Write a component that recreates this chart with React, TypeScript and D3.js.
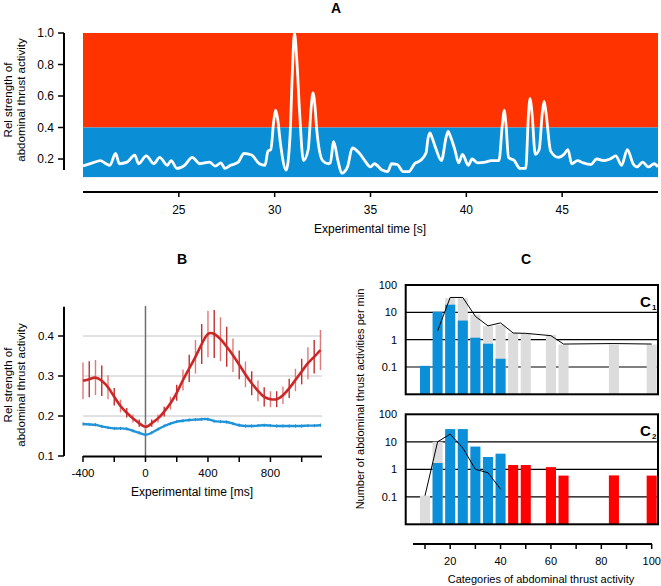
import React from 'react';
import * as d3 from 'd3';

// ---------- Panel A data ----------
const aTime = [20.0,20.5,20.9,21.2,21.4,21.7,21.9,22.3,22.7,22.9,23.3,23.7,24.0,24.4,24.6,24.9,25.3,25.7,26.1,26.6,26.9,27.2,27.4,27.7,28.1,28.4,28.8,29.2,29.5,29.65,29.8,29.95,30.05,30.15,30.3,30.6,30.8,30.92,31.03,31.15,31.3,31.5,31.75,31.9,32.0,32.1,32.2,32.5,32.8,32.9,33.08,33.3,33.5,33.8,34.05,34.4,34.7,35.0,35.2,35.6,35.9,36.1,36.4,36.7,37.0,37.3,37.6,37.9,38.0,38.1,38.2,38.4,38.7,38.95,39.05,39.15,39.4,39.6,39.8,40.1,40.3,40.6,41.0,41.3,41.7,41.88,41.97,42.07,42.2,42.5,42.8,43.1,43.25,43.33,43.42,43.6,43.8,43.97,44.06,44.15,44.4,44.8,45.1,45.3,45.5,45.8,46.1,46.5,46.8,47.2,47.5,47.8,48.1,48.4,48.7,48.9,49.2,49.5,49.8,50.0];
const aValue = [0.156,0.175,0.19,0.17,0.16,0.235,0.17,0.18,0.225,0.17,0.22,0.17,0.21,0.16,0.19,0.14,0.16,0.21,0.17,0.18,0.155,0.175,0.14,0.16,0.18,0.235,0.225,0.17,0.16,0.25,0.26,0.44,0.51,0.46,0.3,0.13,0.34,0.74,1.0,0.84,0.5,0.19,0.26,0.52,0.62,0.54,0.38,0.19,0.17,0.175,0.31,0.19,0.11,0.15,0.27,0.24,0.19,0.15,0.17,0.13,0.12,0.17,0.165,0.12,0.12,0.17,0.19,0.24,0.33,0.365,0.34,0.27,0.19,0.34,0.375,0.35,0.26,0.175,0.23,0.16,0.2,0.175,0.18,0.19,0.19,0.42,0.51,0.42,0.21,0.19,0.14,0.14,0.5,0.585,0.5,0.23,0.26,0.5,0.565,0.5,0.25,0.21,0.23,0.26,0.17,0.19,0.175,0.165,0.2,0.19,0.2,0.22,0.16,0.26,0.17,0.15,0.18,0.15,0.17,0.15];
const aYTicks = [0.2, 0.4, 0.6, 0.8, 1.0];
const aXTicks = [25, 30, 35, 40, 45];
const aBandFrom = [0.4, 0.085];
const aBandTo = [1.0, 0.4];
const aBandColor = ['#ff3300', '#0a8fd6'];

// ---------- Panel B data ----------
const bTime = [-400,-360,-320,-280,-240,-200,-160,-120,-80,-40,0,40,80,120,160,200,240,280,320,360,400,440,480,520,560,600,640,680,720,760,800,840,880,920,960,1000,1040,1080,1120];
const bRedMean = [0.288,0.292,0.296,0.288,0.272,0.248,0.225,0.208,0.194,0.182,0.173,0.182,0.194,0.211,0.232,0.258,0.290,0.319,0.348,0.380,0.405,0.405,0.392,0.373,0.352,0.328,0.304,0.282,0.263,0.248,0.242,0.242,0.252,0.269,0.290,0.311,0.332,0.348,0.365];
const bRedErr = [0.046,0.045,0.044,0.038,0.03,0.022,0.016,0.012,0.01,0.009,0.008,0.009,0.01,0.012,0.016,0.02,0.026,0.034,0.042,0.05,0.058,0.06,0.055,0.05,0.042,0.036,0.032,0.03,0.026,0.024,0.02,0.02,0.022,0.024,0.028,0.032,0.04,0.042,0.05];
const bBlueMean = [0.180,0.179,0.178,0.174,0.171,0.169,0.169,0.168,0.163,0.158,0.153,0.158,0.167,0.175,0.181,0.186,0.188,0.190,0.191,0.192,0.192,0.187,0.186,0.185,0.181,0.177,0.175,0.175,0.176,0.177,0.176,0.175,0.175,0.175,0.175,0.175,0.176,0.176,0.177];
const bBlueErr = [0.004,0.004,0.004,0.004,0.004,0.004,0.004,0.004,0.004,0.004,0.004,0.004,0.004,0.004,0.004,0.004,0.004,0.004,0.004,0.004,0.004,0.004,0.004,0.004,0.004,0.004,0.004,0.004,0.004,0.004,0.004,0.004,0.004,0.004,0.004,0.004,0.004,0.004,0.004];
const bYTicks = [0.1, 0.2, 0.3, 0.4];
const bGrid = [0.2, 0.3, 0.4];
const bXTicks = [-400, -200, 0, 200, 400, 600, 800, 1000];
const bXLabels = [-400, 0, 400, 800];

// ---------- Panel C data ----------
const cCats = [10,15,20,25,30,35,40,45,50,60,65,85,100];
const c1Gray = [null,null,33,33,8.2,3.1,3.5,1.75,1.75,1.5,0.66,0.66,0.66];
const c1Blue = [0.11,10.5,19,5,1.18,0.71,0.2,null,null,null,null,null,null];
const c1Line = [null,2.1,35,35,7.1,3.2,4.1,1.75,1.7,1.4,0.69,0.72,0.69];
const c2Gray = [0.11,10,null,null,null,null,null,null,null,null,null,null,null];
const c2Blue = [null,1.7,29,29,6.7,2.8,3.7,null,null,null,null,null,null];
const c2Red = [null,null,null,null,null,null,null,1.43,1.43,1.2,0.59,0.6,0.59];
const c2Line = [0.11,10,19,6,1.0,0.75,0.19,null,null,null,null,null,null];
const cYTicks = [100, 10, 1, 0.1];
const cGrid = [10, 1, 0.1];
const cXTicks = [10,20,30,40,50,60,70,80,90,100];
const cXLabels = [20,40,60,80,100];

const FONT = '"Liberation Sans", Arial, Helvetica, sans-serif';

export default function App() {
  // Panel A
  const xA = d3.scaleLinear().domain([20, 50]).range([83, 658]);
  const yA = d3.scaleLinear().domain([0.2, 1.0]).range([159, 33]);
  const aPts: [number, number][] = aTime.map((t, i) => [t, aValue[i]]);
  const aLine = d3.line<[number, number]>().x(d => xA(d[0])).y(d => yA(d[1])).curve(d3.curveMonotoneX)(aPts) || '';

  // Panel B
  const xB = d3.scaleLinear().domain([-400, 1130]).range([83, 322]);
  const yB = d3.scaleLinear().domain([0.1, 0.4]).range([456, 336]);
  const lineB = (vals: number[]) => d3.line<number>().x((_, i) => xB(bTime[i])).y(d => yB(d)).curve(d3.curveNatural)(vals) || '';

  // Panel C
  const xC = d3.scaleLinear().domain([10, 100]).range([425, 651.7]);
  const y1 = d3.scaleLog().domain([0.01, 100]).range([394.3, 285]);
  const y2 = d3.scaleLog().domain([0.01, 100]).range([524.3, 414.3]);
  const bw = xC(12) - xC(8);
  const boxL = 405.7, boxR = 658;

  const bars = (vals: (number | null)[], ys: d3.ScaleLogarithmic<number, number>, color: string, key: string) =>
    vals.map((v, i) => v == null ? null : (
      <rect key={key + i} x={xC(cCats[i]) - bw / 2} y={ys(v)} width={bw} height={ys(0.01) - ys(v)} fill={color} />
    ));
  const cLine = (vals: (number | null)[], ys: d3.ScaleLogarithmic<number, number>) => {
    const pts = cCats.map((c, i) => [c, vals[i]] as [number, number | null]).filter(p => p[1] != null) as [number, number][];
    return d3.line<[number, number]>().x(d => xC(d[0])).y(d => ys(d[1]))(pts) || '';
  };

  const cPanel = (ys: d3.ScaleLogarithmic<number, number>, content: React.ReactNode, sub: string) => {
    const top = ys(100), bot = ys(0.01);
    return (
      <g>
        {cGrid.map(g => <line key={'g' + g} x1={boxL} x2={boxR} y1={ys(g)} y2={ys(g)} stroke="#000" strokeWidth={1.2} />)}
        {content}
        <rect x={boxL} y={top} width={boxR - boxL} height={bot - top} fill="none" stroke="#000" strokeWidth={2} />
        {cYTicks.map(t => (
          <text key={'t' + t} x={397} y={ys(t)} textAnchor="end" dominantBaseline="central" fontSize={11}>{String(t)}</text>
        ))}
        <text x={640} y={top + 22} fontSize={15} fontWeight="bold">C</text>
        <text x={652} y={top + 25} fontSize={8} fontWeight="bold">{sub}</text>
      </g>
    );
  };

  return (
    <svg width={661} height={586} style={{ position: 'absolute', left: 0, top: 0 }} fontFamily={FONT}>
      <rect x={0} y={0} width={661} height={586} fill="#fff" />
      {/* ---------- Panel A ---------- */}
      <text x={336} y={13} textAnchor="middle" fontSize={14} fontWeight="bold">A</text>
      {aBandFrom.map((f, i) => (
        <rect key={'band' + i} x={xA(20)} y={yA(aBandTo[i])} width={xA(50) - xA(20)} height={yA(f) - yA(aBandTo[i])} fill={aBandColor[i]} />
      ))}
      <path d={aLine} fill="none" stroke="#fff" strokeWidth={2.8} strokeLinejoin="round" />
      <line x1={64} x2={64} y1={yA(1.0)} y2={170} stroke="#000" strokeWidth={2} />
      {aYTicks.map(t => (
        <g key={'ay' + t}>
          <line x1={58} x2={64} y1={yA(t)} y2={yA(t)} stroke="#000" strokeWidth={1.5} />
          <text x={54} y={yA(t)} textAnchor="end" dominantBaseline="central" fontSize={12}>{t.toFixed(1)}</text>
        </g>
      ))}
      <line x1={83} x2={658} y1={192} y2={192} stroke="#000" strokeWidth={2} />
      {aXTicks.map(t => (
        <g key={'ax' + t}>
          <line x1={xA(t)} x2={xA(t)} y1={192} y2={197} stroke="#000" strokeWidth={1.5} />
          <text x={xA(t)} y={214} textAnchor="middle" fontSize={12}>{t}</text>
        </g>
      ))}
      <text x={370} y={233} textAnchor="middle" fontSize={12}>Experimental time [s]</text>
      <text transform="translate(8,100) rotate(-90)" textAnchor="middle" dominantBaseline="central" fontSize={11.5}>Rel strength of</text>
      <text transform="translate(21,100) rotate(-90)" textAnchor="middle" dominantBaseline="central" fontSize={11.5}>abdominal thrust activity</text>

      {/* ---------- Panel B ---------- */}
      <text x={182} y={264} textAnchor="middle" fontSize={14} fontWeight="bold">B</text>
      {bGrid.map(g => <line key={'bg' + g} x1={83} x2={322} y1={yB(g)} y2={yB(g)} stroke="#c4c4c4" strokeWidth={1} />)}
      <line x1={xB(0)} x2={xB(0)} y1={306} y2={456} stroke="#6e6e6e" strokeWidth={1.5} />
      {bTime.map((t, i) => (
        <line key={'re' + i} x1={xB(t)} x2={xB(t)} y1={yB(bRedMean[i] - bRedErr[i])} y2={yB(bRedMean[i] + bRedErr[i])}
          stroke={i % 2 === 0 ? '#e07a7a' : '#c03030'} strokeWidth={1.4} />
      ))}
      <path d={lineB(bRedMean)} fill="none" stroke="#cc2727" strokeWidth={2.6} />
      {bTime.map((t, i) => (
        <line key={'be' + i} x1={xB(t)} x2={xB(t)} y1={yB(bBlueMean[i] - bBlueErr[i])} y2={yB(bBlueMean[i] + bBlueErr[i])}
          stroke="#1a80c8" strokeWidth={1} />
      ))}
      <path d={lineB(bBlueMean)} fill="none" stroke="#1f93d8" strokeWidth={2.4} />
      <line x1={64} x2={64} y1={306.7} y2={456} stroke="#000" strokeWidth={2} />
      {bYTicks.map(t => (
        <g key={'by' + t}>
          <line x1={58} x2={64} y1={yB(t)} y2={yB(t)} stroke="#000" strokeWidth={1.5} />
          <text x={54} y={yB(t)} textAnchor="end" dominantBaseline="central" fontSize={11.5}>{t.toFixed(1)}</text>
        </g>
      ))}
      <line x1={83} x2={322} y1={456.5} y2={456.5} stroke="#000" strokeWidth={2} />
      {bXTicks.map(t => (
        <line key={'bx' + t} x1={xB(t)} x2={xB(t)} y1={456} y2={462} stroke="#000" strokeWidth={1.5} />
      ))}
      {bXLabels.map(t => (
        <text key={'bxl' + t} x={xB(t)} y={477} textAnchor="middle" fontSize={11.5}>{t}</text>
      ))}
      <text x={192} y={496} textAnchor="middle" fontSize={12}>Experimental time [ms]</text>
      <text transform="translate(8,385) rotate(-90)" textAnchor="middle" dominantBaseline="central" fontSize={11.5}>Rel strength of</text>
      <text transform="translate(21,385) rotate(-90)" textAnchor="middle" dominantBaseline="central" fontSize={11.5}>abdominal thrust activity</text>

      {/* ---------- Panel C ---------- */}
      <text x={526} y={264} textAnchor="middle" fontSize={14} fontWeight="bold">C</text>
      {cPanel(y1, (
        <g>
          {bars(c1Gray, y1, '#dcdcdc', 'g1')}
          {bars(c1Blue, y1, '#0a8fd8', 'b1')}
          <path d={cLine(c1Line, y1)} fill="none" stroke="#000" strokeWidth={1} />
        </g>
      ), '1')}
      {cPanel(y2, (
        <g>
          {bars(c2Gray, y2, '#dcdcdc', 'g2')}
          {bars(c2Blue, y2, '#0a8fd8', 'b2')}
          {bars(c2Red, y2, '#ff0000', 'r2')}
          <path d={cLine(c2Line, y2)} fill="none" stroke="#000" strokeWidth={1} />
        </g>
      ), '2')}
      <line x1={413} x2={652} y1={544} y2={544} stroke="#000" strokeWidth={2} />
      {cXTicks.map(t => (
        <line key={'cx' + t} x1={xC(t)} x2={xC(t)} y1={544} y2={549} stroke="#000" strokeWidth={1.5} />
      ))}
      {cXLabels.map(t => (
        <text key={'cxl' + t} x={xC(t)} y={565} textAnchor="middle" fontSize={11}>{t}</text>
      ))}
      <text x={541} y={583} textAnchor="middle" fontSize={11}>Categories of abdominal thrust activity</text>
      <text transform="translate(360,399) rotate(-90)" textAnchor="middle" dominantBaseline="central" fontSize={11}>Number of abdominal thrust activities per min</text>
    </svg>
  );
}
